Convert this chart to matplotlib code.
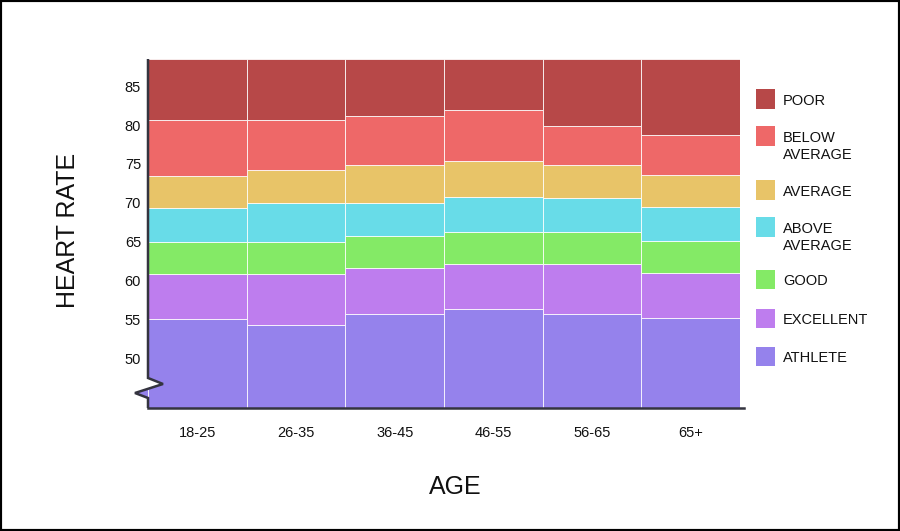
"""Heart rate chart by age group: stacked bands from ATHLETE up to POOR."""

import matplotlib.pyplot as plt
from matplotlib.patches import Polygon, Rectangle
from matplotlib.lines import Line2D

plt.rcParams["font.family"] = ["Liberation Sans", "DejaVu Sans"]

# --- data --------------------------------------------------------------------

AGES = ["18-25", "26-35", "36-45", "46-55", "56-65", "65+"]
FLOOR = 43.6   # bottom of the chart (broken axis)
TOP = 88.5     # top of the chart

# upper limit of each band, per age group
ATHLETE = [55.1, 54.3, 55.7, 56.4, 55.7, 55.2]
EXCELLENT = [60.85, 60.85, 61.6, 62.1, 62.1, 61.0]
GOOD = [65.0, 65.0, 65.7, 66.2, 66.2, 65.1]
ABOVE_AVERAGE = [69.35, 70.0, 70.0, 70.7, 70.6, 69.5]
AVERAGE = [73.5, 74.2, 74.8, 75.4, 74.8, 73.6]
BELOW_AVERAGE = [80.6, 80.6, 81.2, 81.9, 79.9, 78.7]
POOR = [TOP] * 6

BANDS = [
    ("ATHLETE", ATHLETE, "#9582EC"),
    ("EXCELLENT", EXCELLENT, "#BE7DEE"),
    ("GOOD", GOOD, "#84EA66"),
    ("ABOVE\nAVERAGE", ABOVE_AVERAGE, "#68DCE8"),
    ("AVERAGE", AVERAGE, "#E8C468"),
    ("BELOW\nAVERAGE", BELOW_AVERAGE, "#EE6868"),
    ("POOR", POOR, "#B74848"),
]
Y_TICKS = [50, 55, 60, 65, 70, 75, 80, 85]

W, H = 900, 531
SPINE = "#34343f"


def fx(px):
    return px / W


def fy(py):
    return 1 - py / H


fig = plt.figure(figsize=(9, 5.31), dpi=100)
ax = fig.add_axes([fx(148), fy(408), fx(740) - fx(148), fy(59) - fy(408)])

x = range(len(AGES))
lower = [FLOOR] * len(AGES)
for label, upper, color in BANDS:
    heights = [u - l for u, l in zip(upper, lower)]
    ax.bar(x, heights, bottom=lower, width=1.0, color=color,
           edgecolor=(1, 1, 1, 0.8), linewidth=0.7)
    lower = upper

ax.set_xlim(-0.5, len(AGES) - 0.5)
ax.set_ylim(FLOOR, TOP)
ax.set_xticks(list(x), AGES)
ax.set_yticks(Y_TICKS)
ax.tick_params(axis="x", length=0, pad=13, labelsize=10.5, colors="#111111")
ax.tick_params(axis="y", length=0, pad=5, labelsize=10.5, colors="#111111")
for side in ("top", "right", "left"):
    ax.spines[side].set_visible(False)
ax.spines["bottom"].set_color(SPINE)
ax.spines["bottom"].set_linewidth(1.8)
ax.spines["bottom"].set_bounds(-0.5, len(AGES) - 0.5 + 0.04)

# left spine with a zigzag break near the bottom
zx = [0, 0, 0.0253, -0.022, 0, 0]
zy = [1, 0.086, 0.0688, 0.043, 0.0287, 0]
ax.add_patch(Polygon([(0, 0.086), (0.0253, 0.0688), (0, 0.0548)], closed=True,
                     transform=ax.transAxes, facecolor="white", edgecolor="none",
                     clip_on=False, zorder=4))
ax.add_patch(Polygon([(0, 0.0548), (-0.022, 0.043), (0, 0.0287)], closed=True,
                     transform=ax.transAxes, facecolor=BANDS[0][2], edgecolor="none",
                     clip_on=False, zorder=4))
ax.add_line(Line2D(zx, zy, transform=ax.transAxes, color=SPINE, linewidth=1.8,
                   clip_on=False, zorder=5, solid_joinstyle="miter",
                   solid_capstyle="butt"))

# axis titles
fig.text(fx(68), fy(230), "HEART RATE", rotation=90, ha="center", va="center",
         fontsize=18, color="#111111")
fig.text(fx(455), fy(487), "AGE", ha="center", va="center",
         fontsize=18, color="#111111")

# hand-placed legend
legend_centers = {"POOR": 99, "BELOW\nAVERAGE": 136, "AVERAGE": 190,
                  "ABOVE\nAVERAGE": 227, "GOOD": 279, "EXCELLENT": 318,
                  "ATHLETE": 356}
for label, _, color in BANDS:
    cy = legend_centers[label]
    fig.patches.append(Rectangle((fx(756), fy(cy + 9.5)), fx(19), 19 / H,
                                 transform=fig.transFigure, facecolor=color,
                                 edgecolor="none"))
    fig.text(fx(783), fy(cy - 5.3), label, ha="left", va="top",
             fontsize=10.5, color="#111111", linespacing=1.3)

# outer frame
fig.patches.append(Rectangle((0, 0), 1, 1, transform=fig.transFigure,
                             facecolor="none", edgecolor="black", linewidth=3))

fig.savefig("out.png", dpi=100)
